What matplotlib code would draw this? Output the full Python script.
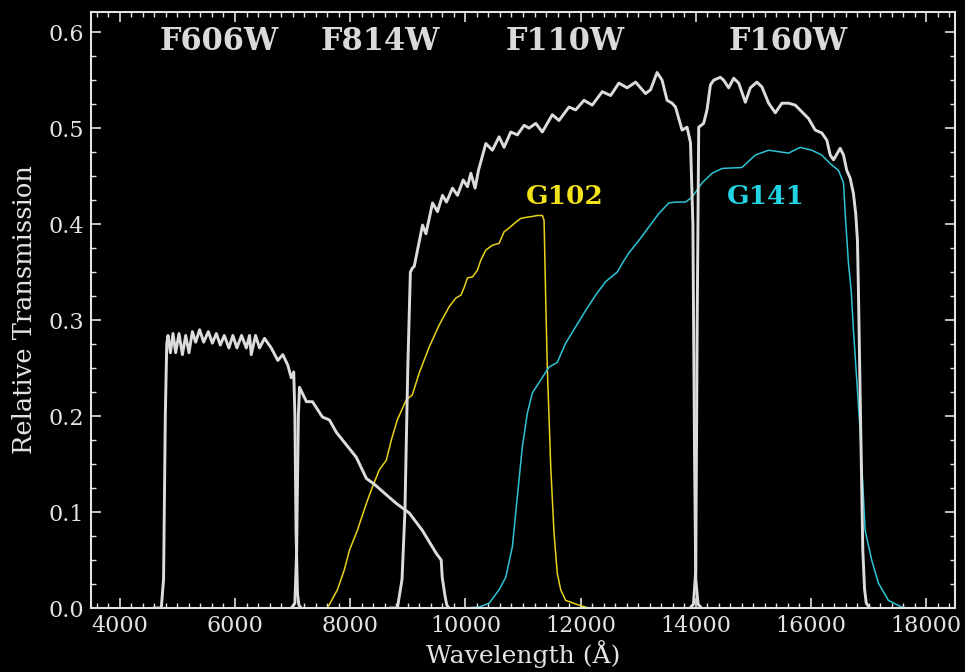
import matplotlib
matplotlib.use("Agg")
import matplotlib.pyplot as plt
from matplotlib.ticker import MultipleLocator

# ---- WFC3 / ACS filter throughput curves (wavelength in Angstrom) ----
f606w_wave = [4600, 4720, 4760, 4790, 4815, 4837, 4879, 4924, 4970, 5028, 5087,
              5144, 5201, 5260, 5317, 5386, 5456, 5537, 5607, 5676, 5745, 5814,
              5894, 5963, 6033, 6114, 6196, 6253, 6282, 6357, 6426, 6513, 6629,
              6743, 6830, 6917, 6976, 7020, 7040, 7060, 7085, 7110, 7150]
f606w_thru = [0.0, 0.0, 0.03, 0.20, 0.275, 0.284, 0.266, 0.286, 0.266, 0.286, 0.264,
              0.284, 0.266, 0.288, 0.277, 0.290, 0.277, 0.288, 0.276, 0.286, 0.274, 0.284,
              0.271, 0.284, 0.271, 0.284, 0.271, 0.284, 0.264, 0.284, 0.271, 0.281, 0.271,
              0.258, 0.264, 0.253, 0.240, 0.246, 0.20, 0.08, 0.015, 0.003, 0.0]

f814w_wave = [6980, 7040, 7070, 7100, 7120, 7241, 7345, 7518, 7639, 7761, 7934,
              8107, 8281, 8419, 8627, 8800, 9026, 9251, 9494, 9580, 9598, 9640,
              9667, 9685, 9720]
f814w_thru = [0.0, 0.005, 0.06, 0.20, 0.230, 0.215, 0.215, 0.199, 0.196, 0.183, 0.170,
              0.157, 0.135, 0.129, 0.118, 0.109, 0.099, 0.081, 0.057, 0.050, 0.032, 0.015,
              0.006, 0.002, 0.0]

f110w_wave = [8700, 8820, 8900, 8950, 9000, 9045, 9078, 9112, 9256, 9315, 9430,
              9516, 9603, 9672, 9776, 9863, 9962, 10036, 10095, 10169, 10227, 10355,
              10469, 10585, 10672, 10788, 10903, 11019, 11105, 11222, 11336, 11509, 11625,
              11799, 11915, 12059, 12202, 12376, 12522, 12665, 12809, 12955, 13128, 13214,
              13329, 13415, 13502, 13589, 13648, 13762, 13849, 13908, 13950, 13980, 14000,
              14040, 14100]
f110w_thru = [0.0, 0.0, 0.03, 0.10, 0.25, 0.350, 0.354, 0.356, 0.399, 0.390, 0.422,
              0.413, 0.430, 0.423, 0.4375, 0.430, 0.446, 0.439, 0.453, 0.4375, 0.456, 0.484,
              0.477, 0.491, 0.480, 0.496, 0.493, 0.503, 0.500, 0.505, 0.496, 0.514, 0.508,
              0.522, 0.519, 0.529, 0.524, 0.538, 0.534, 0.547, 0.542, 0.548, 0.536, 0.540,
              0.558, 0.550, 0.529, 0.526, 0.522, 0.498, 0.501, 0.485, 0.40, 0.15, 0.03,
              0.004, 0.0]

f160w_wave = [13900, 13960, 14000, 14025, 14051, 14137, 14195, 14254, 14311, 14427,
              14484, 14571, 14658, 14745, 14861, 14947, 15061, 15148, 15265, 15381,
              15495, 15611, 15727, 15842, 15958, 16074, 16188, 16275, 16334, 16392,
              16507, 16565, 16621, 16680, 16737, 16777, 16807, 16824, 16860, 16900,
              16930, 16960, 17020]
f160w_thru = [0.0, 0.004, 0.04, 0.30, 0.501, 0.505, 0.519, 0.545, 0.550, 0.553,
              0.550, 0.542, 0.552, 0.547, 0.527, 0.542, 0.548, 0.543, 0.526, 0.516,
              0.526, 0.526, 0.524, 0.517, 0.510, 0.498, 0.495, 0.4875, 0.472, 0.467,
              0.479, 0.472, 0.456, 0.448, 0.432, 0.411, 0.383, 0.331, 0.20, 0.06,
              0.02, 0.005, 0.0]

# ---- grism throughput curves ----
g102_wave = [7605, 7778, 7899, 7986, 8125, 8281, 8385, 8506, 8627, 8714, 8818,
             8974, 9078, 9199, 9372, 9546, 9719, 9835, 9922, 9979, 10036, 10123,
             10209, 10268, 10355, 10469, 10585, 10672, 10759, 10875, 10962, 11048,
             11163, 11250, 11336, 11366, 11395, 11422, 11482, 11539, 11596, 11655,
             11741, 11972, 12145]
g102_thru = [0.0, 0.019, 0.040, 0.060, 0.081, 0.109, 0.126, 0.144, 0.154, 0.175, 0.196,
             0.217, 0.222, 0.245, 0.272, 0.295, 0.314, 0.323, 0.326, 0.334, 0.344, 0.345,
             0.352, 0.3625, 0.373, 0.378, 0.380, 0.392, 0.396, 0.402, 0.406, 0.407,
             0.408, 0.409, 0.409, 0.404, 0.321, 0.251, 0.147, 0.078, 0.036, 0.019,
             0.008, 0.003, 0.0]

g141_wave = [9979, 10239, 10412, 10585, 10701, 10816, 10902, 10989, 11076, 11162,
             11279, 11452, 11596, 11741, 11915, 12088, 12261, 12434, 12636, 12722,
             12838, 13012, 13185, 13358, 13532, 13648, 13821, 13936, 14109, 14283,
             14456, 14802, 15034, 15265, 15611, 15814, 16015, 16188, 16334, 16478,
             16565, 16594, 16651, 16698, 16737, 16853, 16940, 17054, 17171, 17344,
             17574, 17691]
g141_thru = [0.0, 0.001, 0.005, 0.019, 0.032, 0.064, 0.116, 0.168, 0.203, 0.224,
             0.235, 0.251, 0.256, 0.276, 0.293, 0.310, 0.326, 0.340, 0.350, 0.359,
             0.370, 0.383, 0.397, 0.411, 0.422, 0.423, 0.423, 0.428, 0.443, 0.453,
             0.458, 0.459, 0.472, 0.477, 0.474, 0.480, 0.477, 0.472, 0.463, 0.456,
             0.443, 0.411, 0.359, 0.331, 0.290, 0.185, 0.081, 0.050, 0.026, 0.008,
             0.001, 0.0]

filter_names = ["F606W", "F814W", "F110W", "F160W"]
filter_label_x = [5730, 8520, 11730, 15610]
grism_names = ["G102", "G141"]
grism_label_x = [11730, 15210]

x_ticks = [4000, 6000, 8000, 10000, 12000, 14000, 16000, 18000]
y_ticks = [0.0, 0.1, 0.2, 0.3, 0.4, 0.5, 0.6]

# ---- styling ----
bg = "black"
fg = "#e3e3e3"
white_line = "#dcdcdc"
g102_color = "#e8d21c"
g141_color = "#2ec4d6"
g102_text = "#f2e21a"
g141_text = "#22d3e3"

plt.rcParams["font.family"] = ["DejaVu Serif"]

fig = plt.figure(figsize=(9.65, 6.72), dpi=100, facecolor=bg)
ax = fig.add_axes([0.0943, 0.0952, 0.8953, 0.8869], facecolor=bg)

for w, t in [(f606w_wave, f606w_thru), (f814w_wave, f814w_thru),
             (f110w_wave, f110w_thru), (f160w_wave, f160w_thru)]:
    ax.plot(w, t, color=white_line, lw=2.1, solid_joinstyle="round", zorder=3)

ax.plot(g102_wave, g102_thru, color=g102_color, lw=1.1, zorder=2)
ax.plot(g141_wave, g141_thru, color=g141_color, lw=1.1, zorder=2)

for name, xpos in zip(filter_names, filter_label_x):
    ax.text(xpos, 0.590, name, color="#dadada", fontsize=22, fontweight="bold",
            ha="center", va="center")

for name, xpos, col in zip(grism_names, grism_label_x, [g102_text, g141_text]):
    ax.text(xpos, 0.429, name, color=col, fontsize=19, fontweight="bold",
            ha="center", va="center")

ax.set_xlim(3500, 18500)
ax.set_ylim(0.0, 0.621)
ax.set_xticks(x_ticks)
ax.set_yticks(y_ticks)
ax.set_xticklabels([str(v) for v in x_ticks])
ax.set_yticklabels([f"{v:.1f}" for v in y_ticks])
ax.xaxis.set_minor_locator(MultipleLocator(200))
ax.yaxis.set_minor_locator(MultipleLocator(0.025))

ax.tick_params(which="both", direction="in", top=True, right=True,
               colors=fg, labelcolor=fg)
ax.tick_params(which="major", length=7, width=1.2, labelsize=16, pad=5)
ax.tick_params(which="minor", length=3.5, width=1.0)
for sp in ax.spines.values():
    sp.set_color(fg)
    sp.set_linewidth(1.5)

ax.set_xlabel("Wavelength (Å)", color=fg, fontsize=18, labelpad=2)
ax.set_ylabel("Relative Transmission", color=fg, fontsize=18.5, labelpad=8)

fig.savefig("out.png", dpi=100, facecolor=bg)
